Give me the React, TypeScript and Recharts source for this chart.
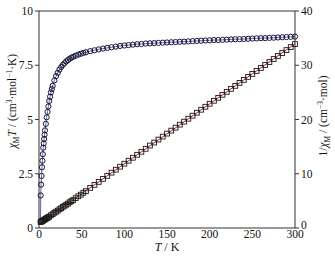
import React from 'react';
import { ComposedChart, Line, XAxis, YAxis } from 'recharts';

// chi_M*T (left axis)
const chiTemps = [
  1.8, 2, 2.5, 3, 3.5, 4, 4.5, 5, 5.5, 6, 6.5, 7, 8, 9, 10, 11, 12, 13, 14, 15, 16, 18, 20, 22, 24, 26,
  28, 30, 32, 34, 36, 38, 40, 43, 46, 49, 52, 55, 60, 65, 70, 75, 80, 85, 90, 95, 100, 105, 110, 115,
  120, 125, 130, 135, 140, 145, 150, 155, 160, 165, 170, 175, 180, 185, 190, 195, 200, 205, 210, 215,
  220, 225, 230, 235, 240, 245, 250, 255, 260, 265, 270, 275, 280, 285, 290, 295, 300,
];
const chiTValues = [
  0.3, 1.5, 2.0, 2.4, 2.8, 3.1, 3.4, 3.7, 3.9, 4.1, 4.3, 4.5, 4.8, 5.1, 5.35, 5.6, 5.85, 6.05, 6.25, 6.4,
  6.55, 6.8, 7.0, 7.15, 7.3, 7.42, 7.52, 7.6, 7.68, 7.74, 7.8, 7.85, 7.89, 7.94, 7.99, 8.03, 8.07, 8.1,
  8.15, 8.19, 8.23, 8.27, 8.3, 8.33, 8.36, 8.39, 8.41, 8.43, 8.45, 8.47, 8.48, 8.5, 8.51, 8.52, 8.53,
  8.54, 8.55, 8.56, 8.57, 8.58, 8.59, 8.6, 8.61, 8.62, 8.63, 8.64, 8.65, 8.66, 8.66, 8.67, 8.68, 8.69,
  8.7, 8.7, 8.71, 8.72, 8.73, 8.74, 8.75, 8.75, 8.76, 8.77, 8.78, 8.79, 8.8, 8.81, 8.82,
];

// 1/chi_M (right axis)
const invTemps = [
  2, 3, 4, 5, 6, 7, 8, 9, 10, 11, 12, 14, 16, 18, 20, 22, 24, 26, 28, 30, 32, 34, 36, 38, 40, 43, 46,
  49, 52, 55, 60, 65, 70, 75, 80, 85, 90, 95, 100, 105, 110, 115, 120, 125, 130, 135, 140, 145, 150,
  155, 160, 165, 170, 175, 180, 185, 190, 195, 200, 205, 210, 215, 220, 225, 230, 235, 240, 245, 250,
  255, 260, 265, 270, 275, 280, 285, 290, 295, 300,
];
const invValues = [
  1.1, 1.2, 1.3, 1.4, 1.5, 1.6, 1.7, 1.8, 1.9, 2.0, 2.1, 2.35, 2.55, 2.8, 3.0, 3.2, 3.45, 3.65, 3.9, 4.1,
  4.3, 4.5, 4.75, 4.95, 5.15, 5.5, 5.85, 6.15, 6.5, 6.8, 7.4, 7.95, 8.5, 9.05, 9.6, 10.2, 10.75, 11.3,
  11.85, 12.4, 12.95, 13.5, 14.05, 14.6, 15.2, 15.75, 16.3, 16.85, 17.4, 17.95, 18.5, 19.05, 19.6,
  20.15, 20.7, 21.25, 21.8, 22.35, 22.9, 23.45, 24.0, 24.55, 25.1, 25.65, 26.2, 26.75, 27.3, 27.85,
  28.4, 28.95, 29.5, 30.05, 30.6, 31.15, 31.7, 32.25, 32.8, 33.35, 33.9,
];

// Curie-Weiss fit line endpoints
const fitTemps = [0, 300];
const fitValues = [0.78, 33.95];

const xTicks = [0, 50, 100, 150, 200, 250, 300];
const xInnerTicks = [50, 100, 150, 200, 250];
const leftTicks = [0, 2.5, 5, 7.5, 10];
const rightTicks = [0, 10, 20, 30, 40];

const chiData = chiTemps.map((t, i) => ({ T: t, v: chiTValues[i] }));
const invData = invTemps.map((t, i) => ({ T: t, v: invValues[i] }));
const fitData = fitTemps.map((t, i) => ({ T: t, v: fitValues[i] }));

const FONT = '"Liberation Serif", "Times New Roman", serif';
const AXIS = '#333';
const tickStyle = { fontSize: 11.5, fontFamily: FONT, fill: '#111' };

const CircleDot = (props: any) => {
  const { cx, cy, index } = props;
  if (cx == null || cy == null) return null;
  return <circle key={`c-${index}`} cx={cx} cy={cy} r={2.6} fill="none" stroke="#16163a" strokeWidth={1} />;
};

const SquareDot = (props: any) => {
  const { cx, cy, index } = props;
  if (cx == null || cy == null) return null;
  return (
    <rect key={`s-${index}`} x={cx - 2.4} y={cy - 2.4} width={4.8} height={4.8} fill="none" stroke="#1e1818" strokeWidth={0.9} />
  );
};

// nudge the right-axis "0" up a touch so it clears the "300" below it
const RightTick = (props: any) => {
  const { x, y, payload } = props;
  const dy = payload.value === 0 ? -3 : 0;
  return (
    <text x={x} y={y + dy} dy="0.35em" textAnchor="start" fontSize={11.5} fontFamily={FONT} fill="#111">
      {payload.value}
    </text>
  );
};

const App: React.FC = () => {
  return (
    <div style={{ position: 'absolute', left: 0, top: 0, width: 335, height: 256, background: '#fff' }}>
      <ComposedChart width={335} height={256} margin={{ top: 11, right: 0, bottom: 0, left: 0 }}>
        <XAxis
          dataKey="T"
          type="number"
          domain={[0, 300]}
          ticks={xTicks}
          height={28}
          tickSize={0}
          tickMargin={2}
          tickLine={false}
          stroke={AXIS}
          tick={tickStyle}
          allowDuplicatedCategory={false}
        />
        <XAxis xAxisId="bin" orientation="bottom" mirror type="number" domain={[0, 300]} ticks={xInnerTicks}
          tickSize={3} axisLine={false} stroke={AXIS} tickFormatter={() => ''} />
        <XAxis xAxisId="top" orientation="top" mirror type="number" domain={[0, 300]} ticks={xInnerTicks}
          tickSize={3} stroke={AXIS} tickFormatter={() => ''} />
        <YAxis
          yAxisId="left"
          type="number"
          domain={[0, 10]}
          ticks={leftTicks}
          width={39}
          tickSize={4}
          tickMargin={2}
          stroke={AXIS}
          tick={tickStyle}
        />
        <YAxis
          yAxisId="right"
          orientation="right"
          type="number"
          domain={[0, 40]}
          ticks={rightTicks}
          width={40}
          tickSize={4}
          tickMargin={2}
          stroke={AXIS}
          tick={<RightTick />}
        />
        <Line
          yAxisId="left"
          data={chiData}
          dataKey="v"
          stroke="#3a3a8c"
          strokeWidth={0.8}
          dot={CircleDot}
          activeDot={false}
          isAnimationActive={false}
        />
        <Line
          yAxisId="right"
          data={invData}
          dataKey="v"
          stroke="none"
          dot={SquareDot}
          activeDot={false}
          isAnimationActive={false}
        />
        <Line
          yAxisId="right"
          data={fitData}
          dataKey="v"
          stroke="#b02424"
          strokeWidth={1}
          dot={false}
          activeDot={false}
          isAnimationActive={false}
        />
      </ComposedChart>
      <svg width={335} height={256} style={{ position: 'absolute', left: 0, top: 0, pointerEvents: 'none' }}>
        <text x={167} y={251} textAnchor="middle" fontSize={12} fontFamily={FONT} fill="#111">
          <tspan fontStyle="italic">T</tspan> / K
        </text>
        <text transform="translate(16,101) rotate(-90)" textAnchor="middle" fontSize={11.5} fontFamily={FONT} fill="#111">
          <tspan fontStyle="italic">χ</tspan>
          <tspan fontSize={7.5} dy={3}>M</tspan>
          <tspan fontStyle="italic" dy={-3}>T</tspan>
          <tspan> / (cm</tspan>
          <tspan fontSize={7.5} dy={-4}>3</tspan>
          <tspan dy={4}>·mol</tspan>
          <tspan fontSize={7.5} dy={-4}>−1</tspan>
          <tspan dy={4}>·K)</tspan>
        </text>
        <text transform="translate(327,116) rotate(-90)" textAnchor="middle" fontSize={11.5} fontFamily={FONT} fill="#111">
          <tspan>1/</tspan>
          <tspan fontStyle="italic">χ</tspan>
          <tspan fontSize={7.5} dy={3}>M</tspan>
          <tspan dy={-3}> / (cm</tspan>
          <tspan fontSize={7.5} dy={-4}>−3</tspan>
          <tspan dy={4}>·mol)</tspan>
        </text>
      </svg>
    </div>
  );
};

export default App;
